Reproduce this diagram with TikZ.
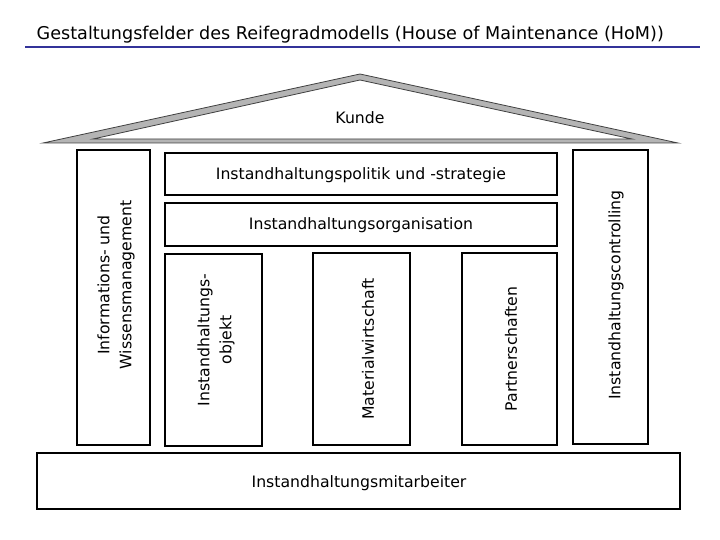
\documentclass[tikz,border=0pt]{standalone}
\usepackage{fontspec}
\setmainfont{DejaVu Sans}
\definecolor{titleblue}{RGB}{51,51,153}
\definecolor{roofgray}{RGB}{180,180,180}
\begin{document}
\begin{tikzpicture}[x=1pt,y=-1pt,
  box/.style={draw=black, line width=1.6pt, inner sep=0pt, fill=white},
  lbl/.style={font=\fontsize{15.7}{22}\selectfont, align=center, inner sep=0pt},
  vlbl/.style={lbl, rotate=90}]
\useasboundingbox (0,0) rectangle (720,540);
% title
\node[anchor=base west, inner sep=0pt, font=\fontsize{17.6}{21}\selectfont] (title) at (36.5,39.5) {Gestaltungsfelder des Reifegradmodells (House of Maintenance (HoM))};
\coordinate (tl) at (25,47);
\coordinate (tr) at (700,47);
\draw[titleblue, line width=2.7pt] (tl) -- (tr);
% roof
\path[draw=black!75, line width=0.8pt, fill=roofgray, even odd rule]
  (43,143) -- (360,74) -- (678,143) -- cycle
  (93,139) -- (360,80) -- (632,139) -- cycle;
\node[lbl] (kunde) at (360,118) {Kunde};
% boxes
\node[box, minimum width=73pt, minimum height=295pt] (info) at (113.5,297.5) {};
\node[vlbl] (infoT) at (116,285) {Informations- und\\Wissensmanagement};
\node[box, minimum width=75pt, minimum height=294pt] (ctrl) at (610.5,297) {};
\node[vlbl] (ctrlT) at (616,295) {Instandhaltungscontrolling};
\node[box, minimum width=392pt, minimum height=42pt] (pol) at (361,174) {};
\node[lbl] (polT) at (361,175) {Instandhaltungspolitik und -strategie};
\node[box, minimum width=392pt, minimum height=43pt] (org) at (361,224.5) {};
\node[lbl] (orgT) at (361,225) {Instandhaltungsorganisation};
\node[box, minimum width=97pt, minimum height=192pt] (obj) at (213.5,350) {};
\node[vlbl] (objT) at (216,340) {Instandhaltungs-\\objekt};
\node[box, minimum width=97pt, minimum height=192pt] (mat) at (361.5,349) {};
\node[vlbl] (matT) at (368,349) {Materialwirtschaft};
\node[box, minimum width=95pt, minimum height=192pt] (part) at (509.5,349) {};
\node[vlbl] (partT) at (511,349) {Partnerschaften};
\node[box, minimum width=643pt, minimum height=56pt] (mit) at (358.5,481) {};
\node[lbl] (mitT) at (359,483) {Instandhaltungsmitarbeiter};
\end{tikzpicture}
\end{document}
